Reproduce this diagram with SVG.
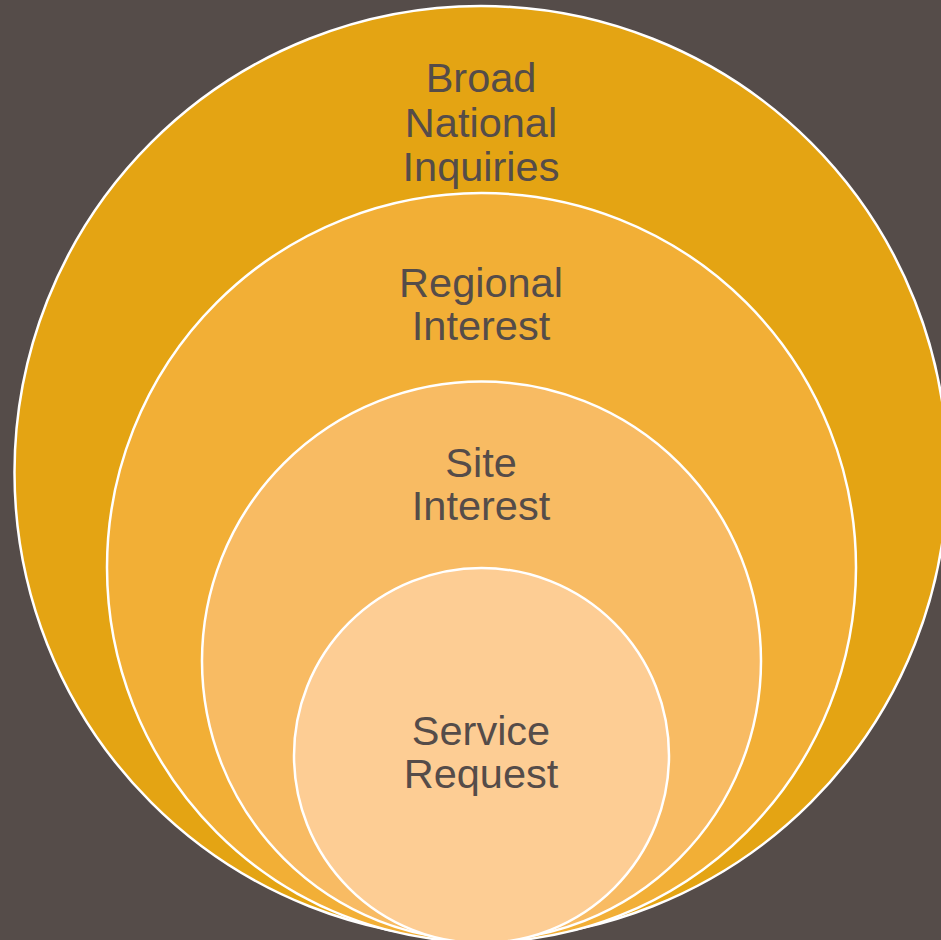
<svg xmlns="http://www.w3.org/2000/svg" width="941" height="940" viewBox="0 0 941 940">
<style>
.c{stroke:#FFFFFF;stroke-width:2.5}
.t{font-family:"Liberation Sans",Arial,sans-serif;font-size:41.5px;fill:#554C49;text-anchor:middle}
</style>
<rect width="941" height="940" fill="#554C49"/>
<g id="broad">
<circle class="c" cx="481" cy="472.5" r="466.5" fill="#E4A413"/>
<text class="t" x="481" y="92">Broad</text>
<text class="t" x="481" y="137">National</text>
<text class="t" x="481" y="181">Inquiries</text>
</g>
<g id="regional">
<circle class="c" cx="481.5" cy="567.5" r="374.5" fill="#F2AF36"/>
<text class="t" x="481" y="297">Regional</text>
<text class="t" x="481" y="340">Interest</text>
</g>
<g id="site">
<circle class="c" cx="481.5" cy="661" r="279.5" fill="#F8BB63"/>
<text class="t" x="481" y="477">Site</text>
<text class="t" x="481" y="520">Interest</text>
</g>
<g id="service">
<circle class="c" cx="481.5" cy="755.5" r="187.5" fill="#FDCD94"/>
<text class="t" x="481" y="745">Service</text>
<text class="t" x="481" y="788">Request</text>
</g>
<g id="connectors"/>
</svg>
